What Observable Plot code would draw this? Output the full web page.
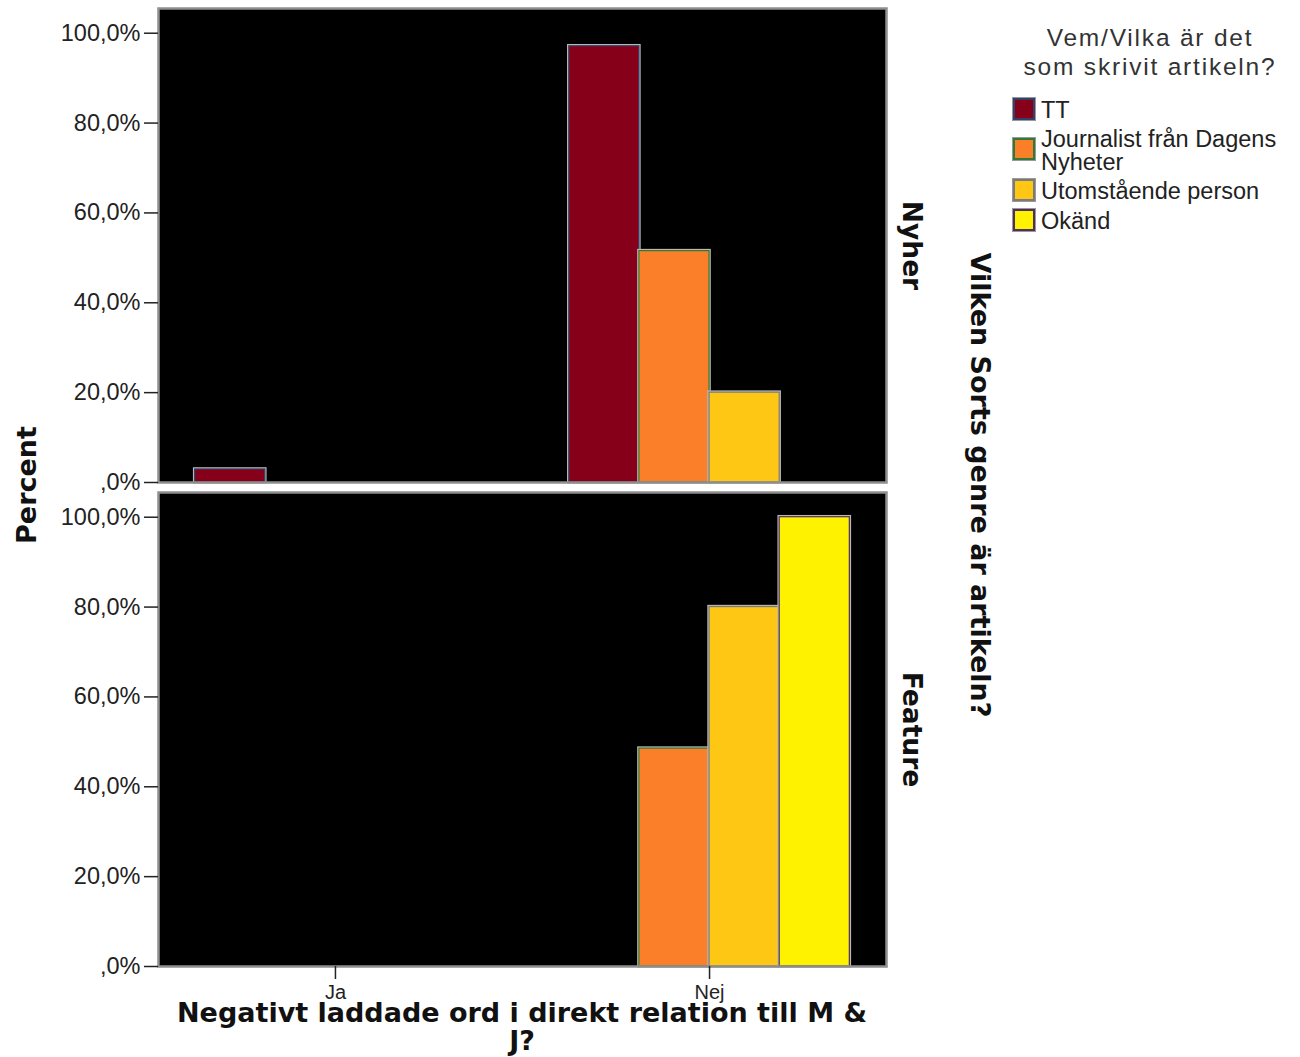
<!DOCTYPE html>
<html>
<head>
<meta charset="utf-8">
<script src="https://cdn.jsdelivr.net/npm/d3@7"></script>
<script src="https://cdn.jsdelivr.net/npm/@observablehq/plot@0.6"></script>
<style>
  html, body { margin: 0; padding: 0; background: #fff; }
  #wrap { position: relative; width: 1300px; height: 1057px; overflow: hidden; font-family: "Liberation Sans", Arial, sans-serif; color: #222; }
  #chart { position: absolute; left: 0; top: 0; }
  .rot { position: absolute; white-space: nowrap; font-family: "DejaVu Sans", sans-serif; font-weight: bold; font-size: 27px; color: #111; }
  #xtitle { position: absolute; left: 142px; width: 760px; top: 999px; text-align: center; font-family: "DejaVu Sans", sans-serif; font-weight: bold; font-size: 27px; line-height: 28px; color: #111; }
  #legend-title { position: absolute; left: 1000px; width: 300px; top: 23px; text-align: center; font-size: 24.5px; line-height: 29px; letter-spacing: 1.8px; color: #333; }
  .li { position: absolute; left: 1013px; font-size: 23.5px; line-height: 23px; color: #222; }
  .sw { position: absolute; left: 0; width: 18px; height: 18px; border: 2px solid; box-shadow: 0 0 0 1px #999; }
  .lt { position: absolute; left: 28px; white-space: nowrap; }
</style>
</head>
<body>
<div id="wrap">
  <div id="chart"></div>
  <div class="rot" id="ylab">Percent</div>
  <div class="rot" id="fylab">Vilken Sorts genre är artikeln?</div>
  <div id="xtitle">Negativt laddade ord i direkt relation till M &amp;<br>J?</div>
  <div id="legend-title">Vem/Vilka är det<br>som skrivit artikeln?</div>
  <div id="legend"></div>
</div>
<script>
// ---- data ----
const categories = ["Ja", "Nej"];
const writers = ["TT", "Journalist från Dagens Nyheter", "Utomstående person", "Okänd"];
const genres = ["Nyher", "Feature"];
// percent per writer, in order of `writers`
const nyherJa = [2.9, 0, 0, 0];
const nyherNej = [97.1, 51.5, 20.0, 0];
const featureJa = [0, 0, 0, 0];
const featureNej = [0, 48.5, 80.0, 100.0];
const yTicks = [0, 20, 40, 60, 80, 100];
const legendLabels = ["TT", "Journalist från Dagens<br>Nyheter", "Utomstående person", "Okänd"];

// ---- styles ----
const fillColors = ["#870019", "#fb7f28", "#fec713", "#fff200"];
const borderColors = ["#34406a", "#2f7a35", "#7a7a7a", "#4e2f5e"];

const table = { Nyher: { Ja: nyherJa, Nej: nyherNej }, Feature: { Ja: featureJa, Nej: featureNej } };
const rows = [];
genres.forEach(g => categories.forEach((c, ci) => writers.forEach((w, wi) => {
  const v = table[g][c][wi];
  if (v > 0) rows.push({ genre: g, cat: ci, writer: w, wi, value: v });
})));

const groupWidth = 0.75;
const barW = groupWidth / writers.length;
const x1 = d => d.cat - groupWidth / 2 + d.wi * barW;
const x2 = d => x1(d) + barW;

const fmt = d => d === 0 ? ",0%" : d.toFixed(1).replace(".", ",") + "%";

const barMarks = [];
writers.forEach((w, wi) => {
  const sub = rows.filter(r => r.wi === wi);
  barMarks.push(Plot.rectY(sub, { x1, x2, y: "value", fy: "genre", stroke: "#b8b8b8", strokeWidth: 3.5 }));
  barMarks.push(Plot.rectY(sub, { x1, x2, y: "value", fy: "genre", fill: "writer", stroke: borderColors[wi], strokeWidth: 1.2 }));
});

const plot = Plot.plot({
  width: 960,
  height: 1057,
  marginLeft: 158,
  marginRight: 74,
  marginTop: 8,
  marginBottom: 91,
  style: { fontFamily: "Liberation Sans, Arial, sans-serif", fontSize: "22px", color: "#222", background: "transparent" },
  x: { type: "linear", domain: [-0.473, 1.473], axis: null },
  y: { domain: [0, 105.5], axis: null },
  fy: { domain: genres, paddingInner: 0.021, paddingOuter: 0, axis: null },
  color: { domain: writers, range: fillColors },
  marks: [
    Plot.frame({ fill: "black", stroke: "none" }),
    ...barMarks,
    Plot.frame({ stroke: "#8f8f8f", strokeWidth: 2.5 }),
    Plot.axisY({ ticks: yTicks, tickFormat: fmt, tickSize: 14, tickPadding: 4, fontSize: 23.5, label: null, stroke: "#222", strokeWidth: 1.5 }),
    Plot.axisX({ ticks: [0, 1], tickFormat: i => categories[i], tickSize: 13, tickPadding: 5, fontSize: 20, label: null, stroke: "#222", strokeWidth: 1.5 }),
    Plot.text(genres, { fy: d => d, text: d => d, frameAnchor: "right", textAnchor: "middle", dx: 25, rotate: 90, fontSize: 26.5, fontWeight: "bold", fontFamily: "DejaVu Sans, sans-serif", fill: "#111" })
  ]
});
document.getElementById("chart").appendChild(plot);

// rotated titles
const ylab = document.getElementById("ylab");
ylab.style.left = "26px"; ylab.style.top = "485px";
ylab.style.transform = "translate(-50%, -50%) rotate(-90deg)";
const fylab = document.getElementById("fylab");
fylab.style.left = "980px"; fylab.style.top = "485px";
fylab.style.transform = "translate(-50%, -50%) rotate(90deg)";

// legend: swatch top, text top
const swatchTops = [98, 138, 179, 209];
const textTops = [99, 128, 180, 210];
const legend = document.getElementById("legend");
writers.forEach((w, i) => {
  const sw = document.createElement("div");
  sw.className = "sw";
  sw.style.left = "1013px";
  sw.style.top = swatchTops[i] + "px";
  sw.style.background = fillColors[i];
  sw.style.borderColor = borderColors[i];
  legend.appendChild(sw);
  const t = document.createElement("div");
  t.className = "li";
  t.style.left = "1041px";
  t.style.top = textTops[i] + "px";
  t.innerHTML = legendLabels[i];
  legend.appendChild(t);
});
</script>
</body>
</html>
